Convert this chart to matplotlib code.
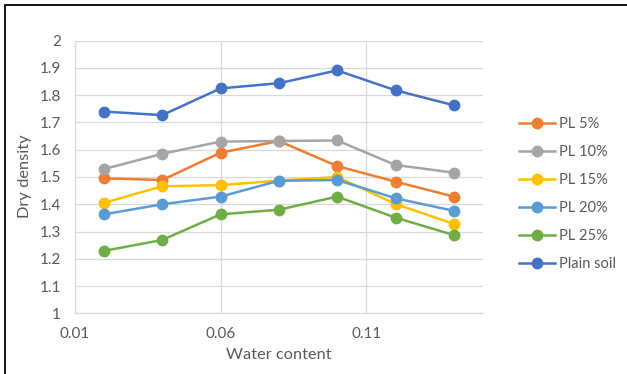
import numpy as np
import matplotlib
matplotlib.use('Agg')
import matplotlib.pyplot as plt
from matplotlib.patches import Rectangle

plt.rcParams['font.family'] = ['Lato', 'DejaVu Sans']

# water content values
water = [0.02, 0.04, 0.06, 0.08, 0.10, 0.12, 0.14]

# dry density per mix
pl5 = [1.495, 1.489, 1.589, 1.632, 1.540, 1.483, 1.428]
pl10 = [1.529, 1.585, 1.630, 1.632, 1.634, 1.544, 1.516]
pl15 = [1.405, 1.466, 1.470, 1.487, 1.500, 1.401, 1.328]
pl20 = [1.363, 1.400, 1.428, 1.486, 1.489, 1.422, 1.376]
pl25 = [1.229, 1.269, 1.363, 1.380, 1.428, 1.351, 1.287]
plain = [1.740, 1.727, 1.825, 1.844, 1.891, 1.818, 1.763]

labels = ['PL 5%', 'PL 10%', 'PL 15%', 'PL 20%', 'PL 25%', 'Plain soil']
colors = ['#ED7D31', '#A5A5A5', '#FFC000', '#5B9BD5', '#70AD47', '#4472C4']
series = [pl5, pl10, pl15, pl20, pl25, plain]

W, H = 627, 374
fig = plt.figure(figsize=(W / 100, H / 100), dpi=100)
ax = fig.add_axes([74.7 / W, (H - 313.3) / H, 408.3 / W, 272.6 / H])

handles = []
for vals, col, lab in zip(series, colors, labels):
    h, = ax.plot(water, vals, '-o', color=col, lw=1.8, ms=7.5, label=lab, zorder=3)
    handles.append(h)

ax.set_xlim(0.01, 0.15)
ax.set_ylim(1, 2)
ax.set_xticks([0.01, 0.06, 0.11])
ax.set_xticklabels(['0.01', '0.06', '0.11'])
yt = np.round(np.arange(1, 2.01, 0.1), 1)
ax.set_yticks(yt)
ax.set_yticklabels(['1' if v == 1 else ('2' if v == 2 else f'{v:.1f}') for v in yt])
ax.grid(True, color='#D9D9D9', lw=0.9, zorder=0)
ax.tick_params(length=0, colors='#595959', labelsize=11, pad=10)
for s in ['top', 'right']:
    ax.spines[s].set_visible(False)
for s in ['left', 'bottom']:
    ax.spines[s].set_color('#D9D9D9')
    ax.spines[s].set_linewidth(0.9)

fig.text(279 / W, 1 - 355 / H, 'Water content', ha='center', va='center',
         color='#595959', fontsize=11.8)
fig.text(25 / W, 1 - 176 / H, 'Dry density', ha='center', va='center',
         rotation=90, color='#595959', fontsize=11.8)

fig.legend(handles=handles, loc='upper left', bbox_to_anchor=(519 / W, 1 - 117.5 / H),
           frameon=False, fontsize=10.5, labelcolor='#595959', handlelength=2.5,
           handletextpad=0.25, labelspacing=0.95, borderaxespad=0, borderpad=0)

# outer chart frame
fig.add_artist(Rectangle((5 / W, -0.1), 1.2, 1 - 5 / H + 0.1, transform=fig.transFigure,
                         fill=False, ec='black', lw=1.3))

fig.savefig('out.png', dpi=100)
